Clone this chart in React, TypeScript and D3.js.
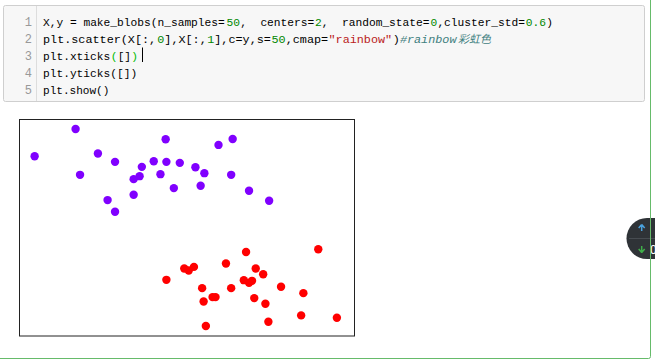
import * as d3 from 'd3';

// make_blobs(n_samples=50, centers=2, random_state=0, cluster_std=0.6)
// class 0 -> purple, class 1 -> red
const class0X = [-0.79, -0.24, 0.06, 0.29, -0.18, 0.97, 1.68, 1.87, 0.65, 0.81, 0.98, 1.16, 1.37,
  1.49, 1.85, 0.9, 0.62, 0.54, 1.08, 1.44, 2.09, 2.36, 0.19, 0.54, 0.29];
const class0Y = [4.91, 5.73, 4.99, 4.74, 4.35, 5.42, 5.25, 5.43, 4.59, 4.76, 4.74, 4.71, 4.58,
  4.4, 4.35, 4.37, 4.31, 4.22, 3.95, 4.02, 3.87, 3.57, 3.59, 3.75, 3.24];
const class1X = [2.05, 3.02, 1.78, 1.22, 1.28, 1.35, 2.18, 2.28, 0.98, 2.02, 2.09, 2.13, 1.46,
  1.85, 2.52, 2.82, 1.6, 1.64, 2.16, 1.48, 2.31, 2.79, 3.27, 2.35, 1.51];
const class1Y = [2.03, 2.11, 1.68, 1.53, 1.47, 1.58, 1.53, 1.36, 1.19, 1.18, 1.1, 1.16, 0.94,
  0.94, 0.98, 0.79, 0.67, 0.67, 0.64, 0.54, 0.47, 0.12, 0.05, -0.07, -0.2];

// code cell text, split into highlighted tokens
const line1 = [['X,y = make_blobs(n_samples=', 'k'], ['50', 'n'], [',  centers=', 'k'], ['2', 'n'],
  [',  random_state=', 'k'], ['0', 'n'], [',cluster_std=', 'k'], ['0.6', 'n'], [')', 'k']];
const line2 = [['plt.scatter(X[:,', 'k'], ['0', 'n'], ['],X[:,', 'k'], ['1', 'n'], ['],c=y,s=', 'k'],
  ['50', 'n'], [',cmap=', 'k'], ['"rainbow"', 's'], [')', 'k'], ['#rainbow', 'c']];
const line2Cjk = '彩虹色';
const line3 = [['plt.xticks', 'k'], ['(', 'b'], ['[]', 'k'], [')', 'b']];
const line4 = [['plt.yticks([])', 'k']];
const line5 = [['plt.show()', 'k']];
const codeLines = [line1, line2, line3, line4, line5];
const lineEnds = [553, 457, 138, 138, 110];

const tokenColor: Record<string, string> = { k: '#000', n: '#080', s: '#ba2121', c: '#408080', b: '#0b0' };

export default function App() {
  const x = d3.scaleLinear().domain([-1, 3.5]).range([19, 354]);
  const y = d3.scaleLinear().domain([-0.5, 6]).range([336, 120]);

  const pts0 = class0X.map((v, i) => ({ x: v, y: class0Y[i] }));
  const pts1 = class1X.map((v, i) => ({ x: v, y: class1Y[i] }));
  const purple = d3.rgb(128, 0, 255).formatHex();
  const red = d3.rgb(255, 0, 0).formatHex();

  const codeFont = '"Liberation Mono", "DejaVu Sans Mono", monospace';
  const codeX = 43;
  const baseline = (i: number) => 26 + i * 17;

  // lay each token out on a fixed character grid for its line;
  // font size picked so a mono glyph (0.6em) fills one grid cell
  const tokenLayout = codeLines.map((tokens, i) => {
    const n = d3.sum(tokens, t => t[0].length);
    const cw = (lineEnds[i] - codeX) / n;
    const fs = cw / 0.605;
    let off = 0;
    return tokens.map(([t, k]) => {
      const item = { t, k, x: codeX + off * cw, fs };
      off += t.length;
      return item;
    });
  });

  return (
    <svg width={655} height={363} style={{ position: 'absolute', left: 0, top: 0, background: '#fff' }}>
      {/* code cell */}
      <rect x={3.5} y={5.5} width={641} height={96} fill="#f7f7f7" stroke="#cfcfcf" rx={2} />
      <line x1={36.5} x2={36.5} y1={6} y2={101} stroke="#ddd" />
      {codeLines.map((_, i) => (
        <text key={'n' + i} x={32} y={baseline(i)} textAnchor="end" fontFamily={codeFont}
          fontSize={12} fill="#999">
          {i + 1}
        </text>
      ))}
      {tokenLayout.map((tokens, i) => tokens.map((tk, j) => (
        <text key={i + '-' + j} x={tk.x} y={baseline(i)} fontFamily={codeFont} fontSize={tk.fs}
          fill={tokenColor[tk.k]} fontStyle={tk.k === 'c' ? 'italic' : 'normal'}
          style={{ whiteSpace: 'pre' }}>
          {tk.t}
        </text>
      )))}
      <text x={458} y={baseline(1)} fontFamily='"Noto Sans CJK SC", sans-serif' fontSize={11}
        fill="#408080" fontStyle="italic">
        {line2Cjk}
      </text>
      {/* cursor */}
      <line x1={142.5} x2={142.5} y1={47.5} y2={62} stroke="#000" />

      {/* scatter plot */}
      <rect x={19.5} y={119.5} width={335} height={216.5} fill="#fff" stroke="#222" />
      {pts0.map((d, i) => (
        <circle key={'a' + i} cx={x(d.x)} cy={y(d.y)} r={4.2} fill={purple} />
      ))}
      {pts1.map((d, i) => (
        <circle key={'b' + i} cx={x(d.x)} cy={y(d.y)} r={4.2} fill={red} />
      ))}

      {/* floating scroll widget */}
      <rect x={626.5} y={218} width={60} height={41} rx={20.5} fill="#2f3337" />
      <line x1={629} x2={655} y1={238.5} y2={238.5} stroke="#474c51" />
      <path d="M641.7,224.5 L638.7,228 M641.7,224.5 L644.7,228 M641.7,224.5 L641.7,231" stroke="#4aa3df" strokeWidth={1.5} fill="none" />
      <path d="M641.7,252.5 L638.7,249 M641.7,252.5 L644.7,249 M641.7,252.5 L641.7,246" stroke="#3fae49" strokeWidth={1.5} fill="none" />
      <text x={650} y={253.5} fontFamily="Roboto, sans-serif" fontSize={12} fill="#fff">0</text>

      {/* selected cell border */}
      <path d="M0,358.5 L648.5,358.5 Q650.5,358.5 650.5,356.5 L650.5,0" stroke="#66bb6a" fill="none" />
    </svg>
  );
}
